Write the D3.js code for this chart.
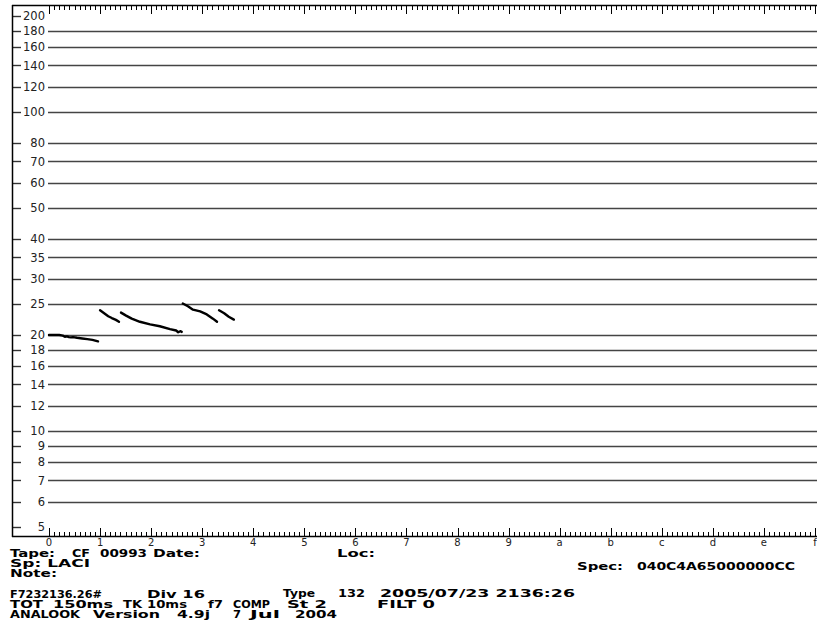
<!DOCTYPE html>
<html><head><meta charset="utf-8">
<script src="https://cdn.jsdelivr.net/npm/d3@7"></script>
<style>html,body{margin:0;padding:0;background:#fff;}svg{display:block;}</style>
</head><body>
<script>
// ---- data ----
const freqTicks = [200,180,160,140,120,100,80,70,60,50,40,35,30,25,20,18,16,14,12,10,9,8,7,6,5];
const gridFreqs = [180,160,140,120,100,80,70,60,50,40,35,30,25,20,18,16,14,12,10,9,8,7,6];
const timeLabels = ["0","1","2","3","4","5","6","7","8","9","a","b","c","d","e","f"];
// pulses: [time (axis units), frequency kHz]
const pulse1 = [[0.00,20.0],[0.10,20.0],[0.20,20.0],[0.27,19.9],[0.31,19.75],[0.35,19.8],[0.39,19.7],[0.43,19.65],[0.47,19.7],[0.55,19.6],[0.65,19.5],[0.75,19.4],[0.85,19.3],[0.96,19.1]];
const pulse2 = [[1.00,23.9],[1.08,23.4],[1.16,22.9],[1.23,22.6],[1.31,22.3],[1.37,22.0]];
const pulse3 = [[1.41,23.5],[1.51,23.0],[1.62,22.5],[1.78,22.0],[1.98,21.6],[2.17,21.3],[2.37,20.85],[2.49,20.65],[2.53,20.4],[2.57,20.55],[2.60,20.45]];
const pulse4 = [[2.62,25.1],[2.72,24.6],[2.82,24.0],[2.96,23.7],[3.09,23.2],[3.21,22.5],[3.29,22.0]];
const pulse5 = [[3.33,23.9],[3.43,23.4],[3.52,22.8],[3.62,22.35]];
const infoText = [
  ["Tape:",10,557,45],["CF",72,557,18],["00993",100,557,47],["Date:",153,557,47],["Loc:",337,557,38],
  ["Sp: LACI",10,567,80],["Spec:",577,570,46],["040C4A65000000CC",637,570,158],
  ["Note:",10,577,47],
  ["F7232136.26#",10,598,92],["Div 16",147,598,58],["Type",283,597,32],["132",338,597,27],["2005/07/23 2136:26",380,597,195],
  ["TOT",10,608,33],["150ms",53,608,60],["TK",123,608,19],["10ms",147,608,40],["f7",208,608,15],["COMP",233,608,37],["St 2",287,608,40],["FILT 0",377,608,58],
  ["ANALOOK",10,618,70],["Version",93,618,67],["4.9j",177,618,33],["7",233,618,8],["Jul",250,618,30],["2004",295,618,42]
];

// ---- layout ----
const W = 817, H = 623;
const axisX = 12, topY = 5, botY = 536, plotL = 48;
const x = d3.scaleLinear().domain([0,15]).range([49,815]);
const y = d3.scaleLog().domain([5,200]).range([527,16]);

const svg = d3.select("body").append("svg").attr("width",W).attr("height",H);

// gridlines
svg.append("g").selectAll("line").data(gridFreqs).join("line")
  .attr("x1",plotL).attr("x2",W).attr("y1",d=>Math.round(y(d))+0.5).attr("y2",d=>Math.round(y(d))+0.5)
  .attr("stroke","#444").attr("stroke-width",1.5);

// left ticks & labels
const lt = svg.append("g");
lt.selectAll("line").data(freqTicks).join("line")
  .attr("x1",axisX).attr("x2",21).attr("y1",d=>Math.round(y(d))+0.5).attr("y2",d=>Math.round(y(d))+0.5)
  .attr("stroke","#333").attr("stroke-width",1.4);
lt.selectAll("text").data(freqTicks).join("text")
  .attr("x",45).attr("y",d=>y(d)).attr("dy","0.36em").attr("text-anchor","end")
  .attr("font-family","DejaVu Sans").attr("font-size",11.5).attr("fill","#222").text(d=>d);

// axes frame
svg.append("line").attr("x1",axisX+0.5).attr("x2",axisX+0.5).attr("y1",topY).attr("y2",botY+1).attr("stroke","#000").attr("stroke-width",1.5);
svg.append("line").attr("x1",axisX).attr("x2",W).attr("y1",topY+0.5).attr("y2",topY+0.5).attr("stroke","#000").attr("stroke-width",1.5);
svg.append("line").attr("x1",axisX).attr("x2",W).attr("y1",botY+0.5).attr("y2",botY+0.5).attr("stroke","#000").attr("stroke-width",1.5);

// minor/major ticks on top and bottom
const tickVals = d3.range(0,151).map(i=>i/10).filter(v=>x(v)<=W);
const tg = svg.append("g").attr("stroke","#000").attr("stroke-width",1);
tickVals.forEach((v,i)=>{
  const major = i%10===0;
  const px = Math.round(x(v))+0.5;
  tg.append("line").attr("x1",px).attr("x2",px).attr("y1",topY).attr("y2",topY+(major?9:5));
  tg.append("line").attr("x1",px).attr("x2",px).attr("y1",botY).attr("y2",botY-(major?8:4));
});

// x labels
svg.append("g").selectAll("text").data(timeLabels).join("text")
  .attr("x",(d,i)=>x(i)).attr("y",546).attr("text-anchor","middle")
  .attr("font-family","DejaVu Sans").attr("font-size",10).attr("fill","#222").text(d=>d);

// pulses
const line = d3.line().x(d=>x(d[0])).y(d=>y(d[1])).curve(d3.curveLinear);
[pulse1,pulse2,pulse3,pulse4,pulse5].forEach(p=>{
  svg.append("path").attr("d",line(p)).attr("fill","none").attr("stroke","#000")
    .attr("stroke-width",2.4).attr("stroke-linecap","round").attr("stroke-linejoin","round");
});

// info text
svg.append("g").selectAll("text").data(infoText).join("text")
  .attr("x",d=>d[1]).attr("y",d=>d[2]).attr("textLength",d=>d[3]).attr("lengthAdjust","spacingAndGlyphs")
  .attr("font-family","DejaVu Sans").attr("font-weight","bold").attr("font-size",10).attr("fill","#000")
  .text(d=>d[0]);
</script>
</body></html>
